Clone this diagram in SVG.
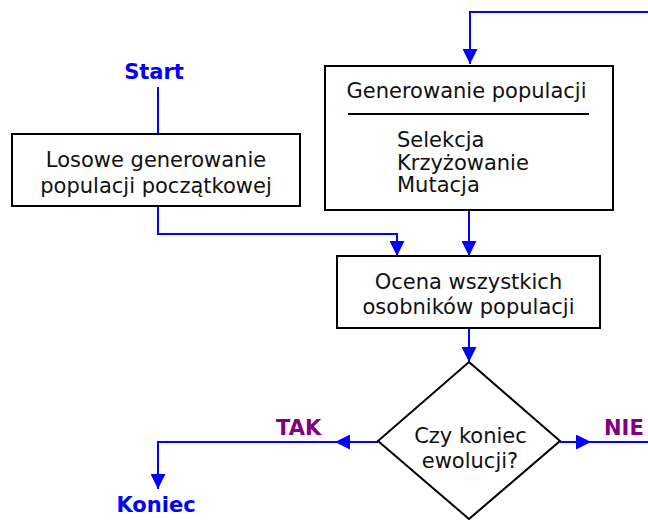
<svg xmlns="http://www.w3.org/2000/svg" width="648" height="520" viewBox="0 0 648 520">
  <style>
    .box { fill: #ffffff; stroke: #000000; stroke-width: 2; }
    .flow { fill: none; stroke: #0000ff; stroke-width: 2; }
    .txt { font-family: "DejaVu Sans", Verdana, sans-serif; font-size: 21px; fill: #111111; }
    .mid { text-anchor: middle; }
    .term { font-family: "DejaVu Sans", Verdana, sans-serif; font-size: 21px; font-weight: bold; fill: #0000ff; text-anchor: middle; }
    .branch { font-family: "DejaVu Sans", Verdana, sans-serif; font-size: 21px; font-weight: bold; fill: #800080; }
  </style>
  <defs>
    <marker id="arrow" markerUnits="userSpaceOnUse" markerWidth="15" markerHeight="15" refX="15" refY="7.5" orient="auto">
      <path d="M0,0 L15,7.5 L0,15 z" fill="#0000ff"/>
    </marker>
  </defs>

  <rect width="648" height="520" fill="#ffffff"/>

  <!-- connectors -->
  <g id="connectors">
    <path class="flow" d="M158,87 V134"/>
    <path class="flow" d="M648,12 H470 V64" marker-end="url(#arrow)"/>
    <path class="flow" d="M158,206 V234 H397 V256" marker-end="url(#arrow)"/>
    <path class="flow" d="M469,210 V256" marker-end="url(#arrow)"/>
    <path class="flow" d="M469,328 V362" marker-end="url(#arrow)"/>
    <path class="flow" d="M378,442 H335" marker-end="url(#arrow)"/>
    <path class="flow" d="M349,442 H158 V489" marker-end="url(#arrow)"/>
    <path class="flow" d="M560,442 H591" marker-end="url(#arrow)"/>
    <path class="flow" d="M589,442 H648"/>
  </g>

  <!-- start terminal -->
  <g id="start">
    <text class="term" x="154" y="79">Start</text>
  </g>

  <!-- random initial population -->
  <g id="init">
    <rect class="box" x="12" y="134" width="288" height="72"/>
    <text class="txt mid" x="156" y="167">Losowe generowanie</text>
    <text class="txt mid" x="156" y="193">populacji początkowej</text>
  </g>

  <!-- population generation -->
  <g id="generate">
    <rect class="box" x="325" y="66" width="288" height="144"/>
    <text class="txt mid" x="466.5" y="98">Generowanie populacji</text>
    <line x1="348" y1="114" x2="589" y2="114" stroke="#000000" stroke-width="2"/>
    <text class="txt" x="397" y="147">Selekcja</text>
    <text class="txt" x="397" y="170">Krzyżowanie</text>
    <text class="txt" x="397" y="192">Mutacja</text>
  </g>

  <!-- evaluation -->
  <g id="evaluate">
    <rect class="box" x="337" y="256" width="263" height="72"/>
    <text class="txt mid" x="468.5" y="289">Ocena wszystkich</text>
    <text class="txt mid" x="468.5" y="314">osobników populacji</text>
  </g>

  <!-- end-of-evolution decision -->
  <g id="decision">
    <polygon class="box" points="469,362 560,441 469,519 378,441"/>
    <text class="txt mid" x="470.5" y="443">Czy koniec</text>
    <text class="txt mid" x="470" y="468">ewolucji?</text>
  </g>

  <!-- branch labels -->
  <g id="yes">
    <text class="branch" x="276" y="435">TAK</text>
  </g>
  <g id="no">
    <text class="branch" x="604" y="435">NIE</text>
  </g>

  <!-- end terminal -->
  <g id="end">
    <text class="term" x="156" y="512">Koniec</text>
  </g>
</svg>
